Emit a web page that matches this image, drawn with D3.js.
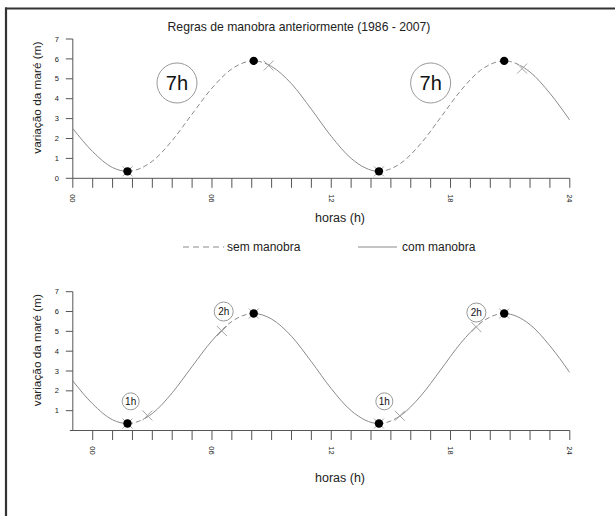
<!DOCTYPE html>
<html lang="pt">
<head>
<meta charset="UTF-8">
<title>Regras de manobra</title>
<script src="https://cdn.jsdelivr.net/npm/d3@7"></script>
<style>
  body { margin: 0; background: #fff; }
  svg { display: block; font-family: "Liberation Sans", Arial, sans-serif; }
</style>
</head>
<body>
<svg width="615" height="516"></svg>
<script>
// tide curve (hour, metres)
const hours  = [-1, 0, 1, 1.75, 3, 4, 5, 6, 7, 8.1, 9, 10, 11, 12, 13, 14.4, 15.5, 16.5, 17.5, 18.5, 19.5, 20.7, 22, 23, 24];
const levels = [2.5, 1.34, 0.54, 0.35, 0.86, 1.9, 3.23, 4.53, 5.5, 5.9, 5.62, 4.75, 3.47, 2.11, 1.0, 0.35, 0.76, 1.74, 3.05, 4.39, 5.42, 5.9, 5.34, 4.27, 2.92];

// low / high water marks
const extremeHours  = [1.75, 8.1, 14.4, 20.7];
const extremeLevels = [0.35, 5.9, 0.35, 5.9];

// "sem manobra" windows (dashed), [start, end] in hours
const windowsBefore = [[1.75, 8.85], [14.4, 21.6]];
const windowsNow    = [[1.75, 2.75], [6.5, 8.1], [14.4, 15.45], [19.3, 20.7]];

const yTicksTop    = [0, 1, 2, 3, 4, 5, 6, 7];
const yTicksBottom = [1, 2, 3, 4, 5, 6, 7];
const xLabelsTop    = [[-1, "00"], [6, "06"], [12, "12"], [18, "18"], [24, "24"]];
const xLabelsBottom = [[0, "00"], [6, "06"], [12, "12"], [18, "18"], [24, "24"]];

const title = "Regras de manobra anteriormente (1986 - 2007)";

const svg = d3.select("svg");
const grey = "#8a8a8a";

// frame
svg.append("line").attr("x1", 5).attr("x2", 615).attr("y1", 8.5).attr("y2", 8.5)
  .attr("stroke", "#333").attr("stroke-width", 2);
svg.append("line").attr("x1", 6).attr("x2", 6).attr("y1", 7.5).attr("y2", 516)
  .attr("stroke", "#333").attr("stroke-width", 2.2);

const x = d3.scaleLinear().domain([0, 24]).range([92.7, 569.8]);
const tide = hours.map((h, i) => ({h: h, v: levels[i]}));
const extremes = extremeHours.map((h, i) => ({h: h, v: extremeLevels[i]}));

function panel(id, y, opt) {
  const g = svg.append("g");
  const line = d3.line().x(d => x(d.h)).y(d => y(d.v)).curve(d3.curveMonotoneX);

  // axes
  g.append("line").attr("x1", opt.axisStart).attr("x2", x(24))
    .attr("y1", y(0)).attr("y2", y(0)).attr("stroke", "#555");
  g.append("line").attr("x1", x(-1)).attr("x2", x(-1))
    .attr("y1", y(7)).attr("y2", y(0)).attr("stroke", "#555");

  g.selectAll(".xt").data(d3.range(opt.firstTick, 25)).join("line")
    .attr("x1", d => x(d)).attr("x2", d => x(d))
    .attr("y1", y(0)).attr("y2", y(0) + 9.5)
    .attr("stroke", "#555");
  g.selectAll(".xl").data(opt.xLabels).join("text")
    .attr("transform", d => `translate(${x(d[0])},${y(0) + 20}) rotate(90)`)
    .attr("text-anchor", "middle").attr("dy", "0.35em")
    .attr("font-size", 7.5).attr("fill", "#222")
    .text(d => d[1]);

  g.selectAll(".yt").data(opt.yTicks).join("line")
    .attr("x1", x(-1) - 7).attr("x2", x(-1))
    .attr("y1", d => y(d)).attr("y2", d => y(d))
    .attr("stroke", "#555");
  g.selectAll(".yl").data(opt.yTicks).join("text")
    .attr("x", x(-1) - 16).attr("y", d => y(d))
    .attr("dy", "0.35em").attr("text-anchor", "middle")
    .attr("font-size", 7.5).attr("fill", "#222")
    .text(d => d);

  g.append("text")
    .attr("transform", `translate(37,${(y(7) + y(0)) / 2 - 11}) rotate(-90)`)
    .attr("text-anchor", "middle").attr("dy", "0.35em")
    .attr("font-size", 11.8).attr("fill", "#222")
    .text("variação da maré (m)");
  g.append("text").attr("x", 340).attr("y", opt.xTitleY)
    .attr("text-anchor", "middle").attr("dy", "0.35em")
    .attr("font-size", 12.5).attr("fill", "#222")
    .text("horas (h)");

  // clip paths: dashed inside windows, solid outside
  const defs = svg.append("defs");
  const inClip = defs.append("clipPath").attr("id", id + "-in");
  inClip.selectAll("rect").data(opt.windows).join("rect")
    .attr("x", d => x(d[0])).attr("width", d => x(d[1]) - x(d[0]))
    .attr("y", y(7) - 10).attr("height", y(0) - y(7) + 20);
  const bounds = [-1].concat(opt.windows.flat(), [24]);
  const outClip = defs.append("clipPath").attr("id", id + "-out");
  outClip.selectAll("rect").data(d3.range(0, bounds.length, 2)).join("rect")
    .attr("x", i => x(bounds[i]) - 2).attr("width", i => x(bounds[i + 1]) - x(bounds[i]) + 2)
    .attr("y", y(7) - 10).attr("height", y(0) - y(7) + 20);

  g.append("path").datum(tide).attr("d", line)
    .attr("fill", "none").attr("stroke", grey).attr("stroke-width", 1)
    .attr("clip-path", `url(#${id}-out)`);
  g.append("path").datum(tide).attr("d", line)
    .attr("fill", "none").attr("stroke", grey).attr("stroke-width", 1)
    .attr("stroke-dasharray", "5,3")
    .attr("clip-path", `url(#${id}-in)`);

  // cross marks at window edges
  const edges = opt.windows.flat();
  const cross = g.selectAll(".cr").data(edges).join("g")
    .attr("transform", d => {
      const v = d3.scaleLinear().domain(hours).range(levels)(d);
      return `translate(${x(d)},${y(v)})`;
    });
  cross.append("line").attr("x1", -5).attr("y1", -5).attr("x2", 5).attr("y2", 5)
    .attr("stroke", "#a5a5a5");
  cross.append("line").attr("x1", -5).attr("y1", 5).attr("x2", 5).attr("y2", -5)
    .attr("stroke", "#a5a5a5");

  g.selectAll(".dot").data(extremes).join("circle")
    .attr("cx", d => x(d.h)).attr("cy", d => y(d.v)).attr("r", 4.2)
    .attr("fill", "#000");

  // duration bubbles
  const bub = g.selectAll(".bub").data(opt.bubbles).join("g")
    .attr("transform", d => `translate(${x(d.h)},${y(d.v)})`);
  bub.append("circle").attr("r", d => d.r)
    .attr("fill", "#fff").attr("stroke", "#999").attr("stroke-width", 1);
  bub.append("text").attr("text-anchor", "middle").attr("dy", "0.36em")
    .attr("font-size", d => d.fs).attr("fill", "#111")
    .text(d => d.label);
}

panel("top", d3.scaleLinear().domain([0, 7]).range([178.3, 39]), {
  axisStart: x(-1), firstTick: -1, xLabels: xLabelsTop, yTicks: yTicksTop,
  windows: windowsBefore, xTitleY: 218,
  bubbles: [{h: 4.24, v: 4.79, r: 20, fs: 20, label: "7h"},
            {h: 17.0, v: 4.79, r: 20, fs: 20, label: "7h"}]
});

panel("bot", d3.scaleLinear().domain([0, 7]).range([430.5, 291.7]), {
  axisStart: x(-1) - 3, firstTick: 0, xLabels: xLabelsBottom, yTicks: yTicksBottom,
  windows: windowsNow, xTitleY: 478,
  bubbles: [{h: 1.91, v: 1.47, r: 8.5, fs: 10, label: "1h"},
            {h: 6.59, v: 6.0, r: 9.5, fs: 10, label: "2h"},
            {h: 14.67, v: 1.47, r: 8.5, fs: 10, label: "1h"},
            {h: 19.3, v: 5.95, r: 9.5, fs: 10, label: "2h"}]
});

svg.append("text").attr("x", 299).attr("y", 27).attr("dy", "0.35em")
  .attr("text-anchor", "middle").attr("font-size", 12.2).attr("fill", "#222")
  .text(title);

// legend
const legend = svg.append("g");
legend.append("line").attr("x1", 183).attr("x2", 224).attr("y1", 247).attr("y2", 247)
  .attr("stroke", grey).attr("stroke-dasharray", "6,4");
legend.append("text").attr("x", 227).attr("y", 247).attr("dy", "0.35em")
  .attr("font-size", 12).attr("fill", "#222").text("sem manobra");
legend.append("line").attr("x1", 358).attr("x2", 397).attr("y1", 247).attr("y2", 247)
  .attr("stroke", grey);
legend.append("text").attr("x", 402).attr("y", 247).attr("dy", "0.35em")
  .attr("font-size", 12).attr("fill", "#222").text("com manobra");
</script>
</body>
</html>
